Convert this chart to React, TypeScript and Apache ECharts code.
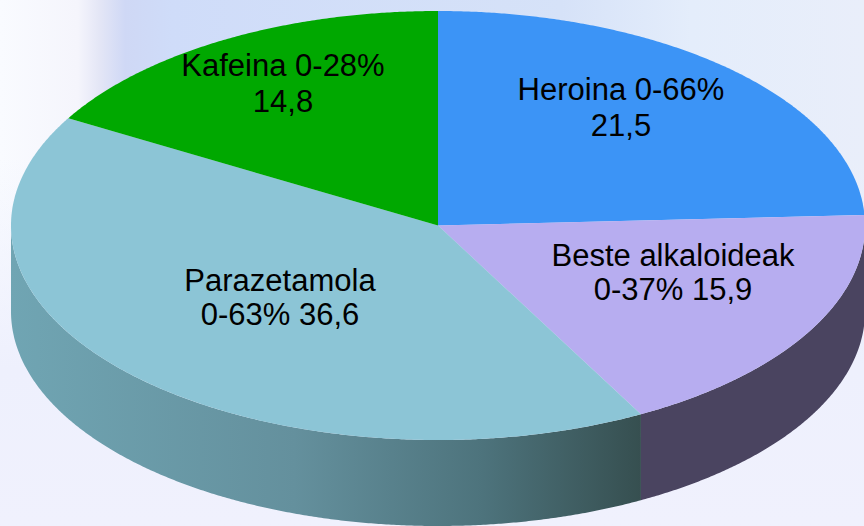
import React, { useEffect, useRef } from "react";
import * as echarts from "echarts";

const categories = ["Heroina 0-66%", "Beste alkaloideak", "Parazetamola", "Kafeina 0-28%"];
const values = [21.5, 15.9, 36.6, 14.8];
const labels = [
  "Heroina 0-66%\n21,5",
  "Beste alkaloideak\n0-37% 15,9",
  "Parazetamola\n0-63% 36,6",
  "Kafeina 0-28%\n14,8",
];
const topColors = ["#3c94f6", "#b7adf0", "#8cc5d6", "#00a800"];

const CX = 438, CY = 225.5, RX = 427, RY = 214.5, DEPTH = 86;
const labelPos = [[621, 107], [673, 272], [280, 297], [283, 83]];
const labelLine = [36, 34, 34, 36];
const total = values.reduce((a, b) => a + b, 0);

function pt(a: number, dy = 0): number[] {
  return [CX + RX * Math.sin(a), CY - RY * Math.cos(a) + dy];
}
function arc(a0: number, a1: number, dy = 0): number[][] {
  const n = Math.max(2, Math.ceil(Math.abs(a1 - a0) / 0.006));
  const out: number[][] = [];
  for (let i = 0; i <= n; i++) out.push(pt(a0 + ((a1 - a0) * i) / n, dy));
  return out;
}
function sideFill(i: number): any {
  if (i === 1) return "#4a4460";
  return new echarts.graphic.LinearGradient(0, 0, 1, 0, [
    { offset: 0, color: "#70a5b3" },
    { offset: 0.45, color: "#64909d" },
    { offset: 0.75, color: "#4d737c" },
    { offset: 1, color: "#364f50" },
  ]);
}

export default function App() {
  const ref = useRef<HTMLDivElement>(null);
  useEffect(() => {
    document.body.style.margin = "0";
    const chart = echarts.init(ref.current!, null, { renderer: "svg" });
    chart.setOption({
      animation: false,
      graphic: [
        {
          type: "rect",
          z: 0,
          shape: { x: 0, y: 0, width: 864, height: 526 },
          style: {
            fill: new echarts.graphic.LinearGradient(0, 0, 1, 0, [
              { offset: 0, color: "#f9fbff" },
              { offset: 0.09, color: "#f5f5fc" },
              { offset: 0.115, color: "#e4e6f6" },
              { offset: 0.145, color: "#cfd8f5" },
              { offset: 0.2, color: "#cfdcf9" },
              { offset: 0.65, color: "#d6e2f8" },
              { offset: 0.8, color: "#e4edfb" },
              { offset: 1, color: "#e9eefa" },
            ]),
          },
        },
        {
          type: "rect",
          z: 1,
          shape: { x: 0, y: 0, width: 864, height: 526 },
          style: {
            fill: new echarts.graphic.LinearGradient(0, 0, 0, 1, [
              { offset: 0, color: "rgba(238,240,253,0)" },
              { offset: 0.3, color: "rgba(238,240,253,0)" },
              { offset: 0.7, color: "rgba(238,240,253,1)" },
              { offset: 1, color: "rgba(240,241,253,1)" },
            ]),
          },
        },
      ],
      series: [
        {
          type: "custom",
          coordinateSystem: "none",
          z: 5,
          silent: true,
          data: values.map((v, i) => ({ value: v, name: categories[i] })),
          renderItem: (params: any) => {
            const i = params.dataIndex;
            const before = values.slice(0, i).reduce((a, b) => a + b, 0);
            const a0 = (before / total) * Math.PI * 2;
            const a1 = ((before + values[i]) / total) * Math.PI * 2;
            const children: any[] = [];
            const s0 = Math.max(a0, Math.PI / 2);
            const s1 = Math.min(a1, (Math.PI * 3) / 2);
            if (s1 > s0) {
              children.push({
                type: "polygon",
                shape: { points: [...arc(s0, s1), ...arc(s1, s0, DEPTH)] },
                style: { fill: sideFill(i) },
              });
            }
            children.push({
              type: "polygon",
              shape: { points: [[CX, CY], ...arc(a0, a1)] },
              style: { fill: topColors[i] },
            });
            return { type: "group", children };
          },
        },
        {
          type: "custom",
          coordinateSystem: "none",
          z: 6,
          silent: true,
          data: labels.map((l) => ({ value: 1, name: l })),
          renderItem: (params: any) => ({
            type: "text",
            x: labelPos[params.dataIndex][0],
            y: labelPos[params.dataIndex][1],
            style: {
              text: labels[params.dataIndex],
              fill: "#000",
              font: '31px "Liberation Sans", Arial, sans-serif',
              lineHeight: labelLine[params.dataIndex],
              align: "center",
              verticalAlign: "middle",
            },
          }),
        },
      ],
    });
    return () => chart.dispose();
  }, []);
  return <div ref={ref} style={{ width: 864, height: 526 }} />;
}
